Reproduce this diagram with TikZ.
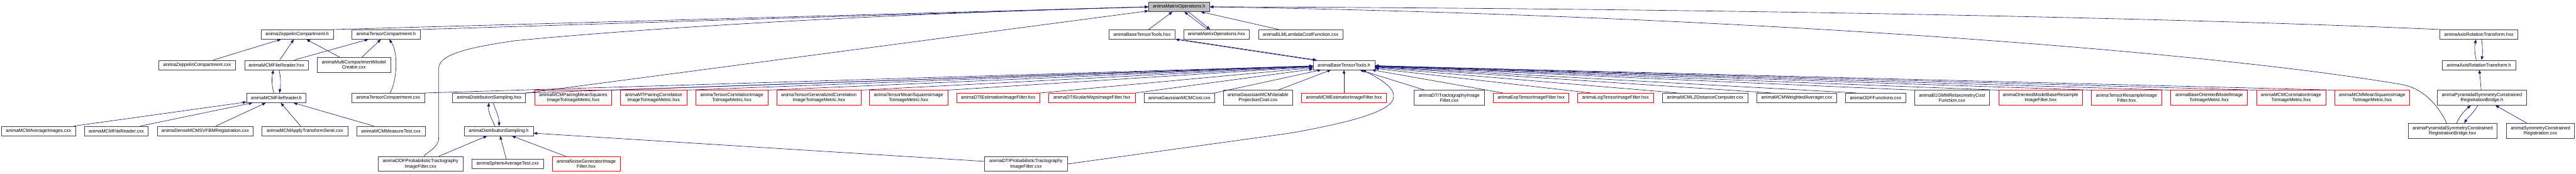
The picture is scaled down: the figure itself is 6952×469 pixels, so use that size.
\documentclass[tikz,border=0pt]{standalone}
\usepackage{fontspec}
\setmainfont{Liberation Sans}
\usetikzlibrary{arrows.meta}

\definecolor{edgeblue}{RGB}{25,25,112}
\definecolor{boxgrey}{RGB}{64,64,64}
\definecolor{rootgrey}{RGB}{191,191,191}

\tikzset{every picture/.style={line width=1.1pt}}
\tikzset{
  file/.style={draw=boxgrey, fill=white, inner sep=1pt, minimum height=25.5pt,
    font=\fontsize{12.7}{14}\selectfont, align=center},
  file2/.style={file, minimum height=40pt},
  redfile/.style={file, draw=red},
  redfile2/.style={file2, draw=red},
  rootfile/.style={file, fill=rootgrey},
  incl/.style={draw=edgeblue, {Triangle[length=10pt,width=7.5pt]}-},
}

\begin{document}
\begin{tikzpicture}[x=1pt,y=1pt,yscale=-1,xscale=1]
\useasboundingbox (0,0) rectangle (6952,469);

% Text Node
\node[rootfile, minimum width=164pt] (mo) at (3182,18.5) {animaMatrixOperations.h};

% Text Node
\node[file, minimum width=195pt] (zh) at (802,93) {animaZeppelinCompartment.h};
% Text Node
\node[file, minimum width=184pt] (tch) at (1042,93) {animaTensorCompartment.h};
% Text Node
\node[file, minimum width=179pt] (btthxx) at (3082,93) {animaBaseTensorTools.hxx};
% Text Node
\node[file, minimum width=176pt] (mohxx) at (3283,93) {animaMatrixOperations.hxx};
% Text Node
\node[file, minimum width=228pt] (blm) at (3510,93) {animaBLMLambdaCostFunction.cxx};
% Text Node
\node[file, minimum width=210pt] (arthxx) at (6690,93) {animaAxisRotationTransform.hxx};

% Text Node
\node[file, minimum width=206pt] (zcxx) at (532,175.5) {animaZeppelinCompartment.cxx};
% Text Node
\node[file, minimum width=172pt] (mcmfrhxx) at (746,175.5) {animaMCMFileReader.hxx};
% Text Node
\node[file2, minimum width=199pt] (mcmc) at (955,175) {animaMultiCompartmentModel\\Creator.cxx};
% Text Node
\node[file, minimum width=166pt] (btth) at (3627,175.5) {animaBaseTensorTools.h};
% Text Node
\node[file, minimum width=198pt] (arth) at (6690,175.5) {animaAxisRotationTransform.h};

% Text Node
\node[file, minimum width=160pt] (mcmfrh) at (746,264.5) {animaMCMFileReader.h};
% Text Node
\node[file, minimum width=196pt] (tccxx) at (1048,264.5) {animaTensorCompartment.cxx};
% Text Node
\node[file, minimum width=197pt] (dshxx) at (1320,264.5) {animaDistributionSampling.hxx};
% Text Node
\node[redfile2, minimum width=207pt] (mcmpms) at (1547,264) {animaMCMPairingMeanSquares\\ImageToImageMetric.hxx};
% Text Node
\node[redfile2, minimum width=179pt] (mtpc) at (1764,264) {animaMTPairingCorrelation\\ImageToImageMetric.hxx};
% Text Node
\node[redfile2, minimum width=195pt] (tcorr) at (1975,264) {animaTensorCorrelationImage\\ToImageMetric.hxx};
% Text Node
\node[redfile2, minimum width=227pt] (tgc) at (2210,264) {animaTensorGeneralizedCorrelation\\ImageToImageMetric.hxx};
% Text Node
\node[redfile2, minimum width=211pt] (tms) at (2452,264) {animaTensorMeanSquaresImage\\ToImageMetric.hxx};
% Text Node
\node[redfile, minimum width=225pt] (dtie) at (2694,264.5) {animaDTIEstimationImageFilter.hxx};
% Text Node
\node[redfile, minimum width=234pt] (dtism) at (2947,264.5) {animaDTIScalarMapsImageFilter.hxx};
% Text Node
\node[file, minimum width=189pt] (gmc) at (3183,264.5) {animaGaussianMCMCost.cxx};
% Text Node
\node[file2, minimum width=187pt] (gmvp) at (3395,264) {animaGaussianMCMVariable\\ProjectionCost.cxx};
% Text Node
\node[redfile, minimum width=229pt] (mcme) at (3627,264.5) {animaMCMEstimatorImageFilter.hxx};
% Text Node
\node[file2, minimum width=190pt] (dtit) at (3911,264) {animaDTITractographyImage\\Filter.cxx};
% Text Node
\node[redfile, minimum width=204pt] (expt) at (4132,264.5) {animaExpTensorImageFilter.hxx};
% Text Node
\node[redfile, minimum width=204pt] (logt) at (4360,264.5) {animaLogTensorImageFilter.hxx};
% Text Node
\node[file, minimum width=231pt] (l2d) at (4602,264.5) {animaMCML2DistanceComputer.cxx};
% Text Node
\node[file, minimum width=215pt] (mcmwa) at (4849,264.5) {animaMCMWeightedAverager.cxx};
% Text Node
\node[file, minimum width=163pt] (odff) at (5062,264.5) {animaODFFunctions.cxx};
% Text Node
\node[file2, minimum width=203pt] (b1gmm) at (5268,264) {animaB1GMMRelaxometryCost\\Function.cxx};
% Text Node
\node[redfile2, minimum width=226pt] (ombr) at (5507,264) {animaOrientedModelBaseResample\\ImageFilter.hxx};
% Text Node
\node[redfile2, minimum width=190pt] (tres) at (5739,264) {animaTensorResampleImage\\Filter.hxx};
% Text Node
\node[redfile2, minimum width=207pt] (bomm) at (5962,264) {animaBaseOrientedModelImage\\ToImageMetric.hxx};
% Text Node
\node[redfile2, minimum width=187pt] (mcmcorr) at (6183,264) {animaMCMCorrelationImage\\ToImageMetric.hxx};
% Text Node
\node[redfile2, minimum width=203pt] (mcmms) at (6402,264) {animaMCMMeanSquaresImage\\ToImageMetric.hxx};
% Text Node
\node[file2, minimum width=240pt] (psbh) at (6698,264) {animaPyramidalSymmetryConstrained\\RegistrationBridge.h};

% Text Node
\node[file, minimum width=199pt] (mcmavg) at (104,354) {animaMCMAverageImages.cxx};
% Text Node
\node[file, minimum width=172pt] (mcmfrcxx) at (314,354) {animaMCMFileReader.cxx};
% Text Node
\node[file, minimum width=259pt] (dense) at (554,354) {animaDenseMCMSVFBMRegistration.cxx};
% Text Node
\node[file, minimum width=232pt] (mcmapply) at (823,354) {animaMCMApplyTransformSerie.cxx};
% Text Node
\node[file, minimum width=185pt] (mcmmt) at (1055,354) {animaMCMMeasureTest.cxx};
% Text Node
\node[file, minimum width=186pt] (dsh) at (1346,354) {animaDistributionSampling.h};
% Text Node
\node[file2, minimum width=240pt, minimum height=41pt] (psbhxx) at (6619,353.5) {animaPyramidalSymmetryConstrained\\RegistrationBridge.hxx};
% Text Node
\node[file2, minimum width=183pt, minimum height=41pt] (scr) at (6856,353.5) {animaSymmetryConstrained\\Registration.cxx};

% Text Node
\node[file2, minimum width=229pt] (odfp) at (1135,443) {animaODFProbabilisticTractography\\ImageFilter.cxx};
% Text Node
\node[file, minimum width=193pt, minimum height=26pt] (sat) at (1370,443) {animaSphereAverageTest.cxx};
% Text Node
\node[redfile2, minimum width=184pt] (noise) at (1582,443) {animaNoiseGeneratorImage\\Filter.hxx};
% Text Node
\node[file2, minimum width=224pt] (dtip) at (2769,443) {animaDTIProbabilisticTractography\\ImageFilter.cxx};

%Straight Lines
\draw[incl] (zh) -- (zcxx);
\draw[incl] (zh) -- (mcmfrhxx);
\draw[incl] (zh) -- (mcmc);
\draw[incl] (tch) -- (mcmfrhxx);
\draw[incl] (tch) -- (mcmc);
%Curve Lines
\draw[incl] ([xshift=8pt]tch.south) .. controls (1075,140) and (1072,215) .. ([xshift=5pt]tccxx.north);
\draw[incl] ([xshift=-8pt]mcmfrhxx.south) .. controls (733,210) and (733,232) .. ([xshift=-7pt]mcmfrh.north);
\draw[incl] ([xshift=8pt]mcmfrh.north) .. controls (758,230) and (758,208) .. ([xshift=7pt]mcmfrhxx.south);
%Straight Lines
\draw[incl] (mcmfrh) -- (mcmavg);
\draw[incl] (mcmfrh) -- (mcmfrcxx);
\draw[incl] (mcmfrh) -- (dense);
\draw[incl] (mcmfrh) -- (mcmapply);
\draw[incl] (mcmfrh) -- (mcmmt);

%Straight Lines
\draw[incl] (mo.west) -- (zh.north east);
\draw[incl] (mo.west) -- (tch.north east);
\draw[incl] (mo) -- (dshxx);
%Curve Lines
\draw[incl] (mo.west) .. controls (2300,40) and (1700,80) .. (1390,110)
  .. controls (1250,130) and (1184,150) .. (1184,185) -- (1184,372)
  .. controls (1184,400) and (1150,412) .. ([xshift=9pt]odfp.north);
%Straight Lines
\draw[incl] (mo) -- (btthxx);
\draw[incl] ([xshift=14pt]mo.south) -- ([xshift=-24pt]mohxx.north);
\draw[incl] ([xshift=-17pt]mohxx.north) -- ([xshift=25pt]mo.south);
\draw[incl] (mo) -- (blm);
%Curve Lines
\draw[incl] (mo.east) .. controls (4500,22) and (5800,45) .. (arthxx.north west);
\draw[incl] (mo.east) .. controls (4600,40) and (5900,130) .. (6480,228)
  .. controls (6540,238) and (6580,285) .. ([xshift=-16pt]psbhxx.north);

%Curve Lines
\draw[incl] ([xshift=-8pt]arthxx.south) .. controls (6678,125) and (6678,145) .. ([xshift=-7pt]arth.north);
\draw[incl] ([xshift=7pt]arth.north) .. controls (6700,145) and (6700,125) .. ([xshift=7pt]arthxx.south);
\draw[incl] (arth) -- (psbh);
\draw[incl] ([xshift=-30pt]psbh.south) .. controls (6650,300) and (6635,318) .. ([xshift=11pt]psbhxx.north);
\draw[incl] ([xshift=31pt]psbhxx.north) .. controls (6660,318) and (6680,300) .. ([xshift=-11pt]psbh.south);
\draw[incl] (psbh) -- (scr);

%Straight Lines
\draw[incl] (btthxx.south east) -- (btth.north west);
\draw[incl] ([xshift=10pt]btth.north west) -- ([xshift=10pt]btthxx.south east);
\draw[incl] (btth) -- (mcme);
\draw[incl] (btth) -- (tccxx.north east);
\draw[incl] (btth) -- (dshxx.north east);
\draw[incl] (btth) -- (mcmpms.north east);
\draw[incl] (btth) -- (mtpc.north east);
\draw[incl] (btth) -- (tcorr.north east);
\draw[incl] (btth) -- (tgc.north east);
\draw[incl] (btth) -- (tms.north east);
\draw[incl] (btth) -- (dtie.north east);
\draw[incl] (btth) -- (dtism.north east);
\draw[incl] (btth) -- (gmc.north east);
\draw[incl] (btth) -- (gmvp);
\draw[incl] (btth) -- (dtit);
\draw[incl] (btth) -- (expt);
\draw[incl] (btth) -- ([xshift=36pt]logt.north west);
\draw[incl] (btth) -- ([xshift=42pt]l2d.north west);
\draw[incl] (btth) -- ([xshift=41pt]mcmwa.north west);
\draw[incl] (btth) -- ([xshift=30pt]odff.north west);
\draw[incl] (btth) -- (b1gmm.north west);
\draw[incl] (btth) -- (ombr.north west);
\draw[incl] (btth) -- (tres.north west);
\draw[incl] (btth) -- (bomm.north west);
\draw[incl] (btth) -- (mcmcorr.north west);
\draw[incl] (btth) -- (mcmms.north west);
%Curve Lines
\draw[incl] ([xshift=49pt]btth.south) .. controls (3730,215) and (3765,240) .. (3761,263)
  .. controls (3757,300) and (3650,330) .. (3480,360) -- (dtip.east);

%Curve Lines
\draw[incl] (dshxx.south) .. controls (1316,300) and (1328,325) .. ([xshift=-10pt]dsh.north);
\draw[incl] ([xshift=1pt]dsh.north) .. controls (1347,318) and (1338,295) .. ([xshift=10pt]dshxx.south);
%Straight Lines
\draw[incl] (dsh) -- (odfp);
\draw[incl] (dsh) -- (sat);
\draw[incl] (dsh) -- (noise);
\draw[incl] (dsh) -- (dtip);

\end{tikzpicture}
\end{document}
